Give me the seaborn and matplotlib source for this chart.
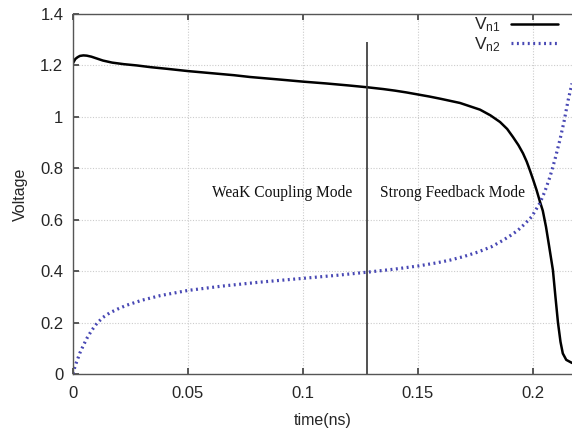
import matplotlib
matplotlib.use("Agg")
import matplotlib.pyplot as plt
import seaborn as sns
import pandas as pd

# ---- data ----
t_n1 = [0, 0.001, 0.002, 0.003, 0.0045, 0.006, 0.008, 0.01, 0.013, 0.017, 0.022, 0.0277,
        0.034, 0.0407, 0.05, 0.06, 0.07, 0.077, 0.09, 0.1, 0.11, 0.12, 0.128, 0.135,
        0.14, 0.145, 0.15, 0.155, 0.16, 0.1683, 0.177, 0.1815, 0.1857, 0.1888, 0.1913,
        0.1937, 0.1957, 0.1973, 0.1987, 0.2002, 0.2016, 0.203, 0.2043, 0.2057, 0.207,
        0.2087, 0.2098, 0.2109, 0.212, 0.213, 0.2145, 0.217]
v_n1 = [1.209, 1.225, 1.232, 1.237, 1.239, 1.238, 1.234, 1.228, 1.219, 1.211, 1.205, 1.2,
        1.193, 1.187, 1.178, 1.170, 1.162, 1.155, 1.145, 1.137, 1.130, 1.122, 1.115, 1.108,
        1.102, 1.095, 1.087, 1.079, 1.070, 1.054, 1.028, 1.006, 0.98, 0.953, 0.922,
        0.89, 0.858, 0.826, 0.792, 0.753, 0.715, 0.672, 0.635, 0.572, 0.50,
        0.404, 0.30, 0.20, 0.125, 0.08, 0.055, 0.043]
t_n2 = [0, 0.0005, 0.001, 0.0017, 0.003, 0.0045, 0.006, 0.008, 0.0104, 0.013, 0.016, 0.02,
        0.0235, 0.03, 0.038, 0.05, 0.065, 0.081, 0.1, 0.115, 0.128, 0.14, 0.15, 0.158,
        0.164, 0.17, 0.176, 0.182, 0.187, 0.1905, 0.1935, 0.1965, 0.1994, 0.203, 0.2052,
        0.2074, 0.2096, 0.2117, 0.2135, 0.2153, 0.217]
v_n2 = [0, 0.018, 0.033, 0.05, 0.082, 0.111, 0.138, 0.168, 0.197, 0.22, 0.238, 0.255,
        0.268, 0.287, 0.305, 0.325, 0.342, 0.357, 0.372, 0.384, 0.396, 0.408, 0.42, 0.432,
        0.443, 0.457, 0.474, 0.495, 0.52, 0.54, 0.559, 0.584, 0.611, 0.664, 0.71,
        0.766, 0.835, 0.909, 0.98, 1.064, 1.13]
labels = ["V$_{\\mathregular{n1}}$", "V$_{\\mathregular{n2}}$"]
x_ticks = [0, 0.05, 0.1, 0.15, 0.2]
x_ticklabels = ["0", "0.05", "0.1", "0.15", "0.2"]
y_ticks = [0, 0.2, 0.4, 0.6, 0.8, 1.0, 1.2, 1.4]
y_ticklabels = ["0", "0.2", "0.4", "0.6", "0.8", "1", "1.2", "1.4"]
mode_boundary = 0.128
mode_texts = ["WeaK Coupling Mode", "Strong Feedback Mode"]

sns.set_theme(style="white")
plt.rcParams["font.family"] = ["Liberation Sans", "DejaVu Sans"]
plt.rcParams["mathtext.fontset"] = "custom"
plt.rcParams["mathtext.rm"] = "Liberation Sans"
plt.rcParams["mathtext.it"] = "Liberation Sans"

fig = plt.figure(figsize=(5.72, 4.32), dpi=100)
ax = fig.add_axes([73 / 572, 1 - 374 / 432, 1 - 73 / 572, (374 - 14) / 432])

df1 = pd.DataFrame({"t": t_n1, "v": v_n1})
df2 = pd.DataFrame({"t": t_n2, "v": v_n2})
sns.lineplot(data=df1, x="t", y="v", ax=ax, color="black", lw=1.8, label=labels[0], sort=False)
sns.lineplot(data=df2, x="t", y="v", ax=ax, color="#4848b4", lw=2.3, linestyle=(0, (0.6, 1.1)),
             label=labels[1], sort=False)

ax.vlines(mode_boundary, 0, 1.293, color="#333333", lw=1.2)

ax.text(0.0909, 0.703, mode_texts[0], family=["Liberation Serif"], fontsize=11.2,
        ha="center", va="center", color="#111111")
ax.text(0.165, 0.703, mode_texts[1], family=["Liberation Serif"], fontsize=11.2,
        ha="center", va="center", color="#111111")

ax.set_xlim(0, 0.217)
ax.set_ylim(0, 1.4)
ax.set_xticks(x_ticks)
ax.set_xticklabels(x_ticklabels)
ax.set_yticks(y_ticks)
ax.set_yticklabels(y_ticklabels)
ax.set_xlabel("time(ns)", fontsize=11.5, labelpad=8)
ax.set_ylabel("Voltage", fontsize=11.5, labelpad=9)
ax.tick_params(axis="both", labelsize=12, direction="in", length=4, color="#444444",
               top=True, bottom=True, left=True, right=False)
ax.tick_params(axis="x", pad=9)
ax.tick_params(axis="y", pad=7)
ax.grid(True, color="#cccccc", linestyle=(0, (1, 1.5)), lw=0.8)
for s in ["left", "bottom", "top"]:
    ax.spines[s].set_color("#555555")
    ax.spines[s].set_linewidth(1.0)
ax.spines["right"].set_visible(False)

leg = ax.legend(loc="upper right", frameon=False,
                markerfirst=False, handlelength=2.7, fontsize=12.5, labelspacing=0.05,
                borderaxespad=0.0, borderpad=0.1, handletextpad=0.6)
leg.set_bbox_to_anchor(((560 - 73) / (572 - 73), 1.0), transform=ax.transAxes)

fig.savefig("out.png", dpi=100)
